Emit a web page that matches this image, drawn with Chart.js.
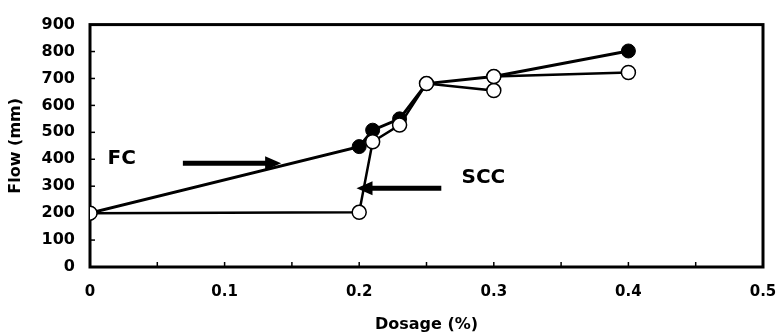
<!DOCTYPE html>
<html>
<head>
<meta charset="utf-8">
<script src="https://cdn.jsdelivr.net/npm/chart.js@4"></script>
<style>
    html, body { margin: 0; padding: 0; background: #fff; }
    #wrap { width: 777px; height: 334px; }
</style>
</head>
<body>
<div id="wrap"><canvas id="flowChart"></canvas></div>
<script>
// values
const fcDosage = [0, 0.2, 0.21, 0.23, 0.25, 0.3, 0.4];
const fcFlow = [200, 447, 508, 550, 681, 707, 802];
const sccDosage = [0, 0.2, 0.21, 0.23, 0.25, 0.3, 0.3, 0.4];
const sccFlow = [200, 203, 465, 527, 681, 655, 707, 722];
const xTicks = [0, 0.1, 0.2, 0.3, 0.4, 0.5];
const yTicks = [0, 100, 200, 300, 400, 500, 600, 700, 800, 900];

// labels + arrows, in data units
const labels = [
    { text: 'FC', x: 0.013, y: 403 },
    { text: 'SCC', x: 0.276, y: 330 }
];
const arrows = [
    { from: [0.069, 385], to: [0.142, 385] },
    { from: [0.261, 292], to: [0.198, 292] }
];

const FONT = "'DejaVu Sans', Arial, sans-serif";

document.addEventListener('DOMContentLoaded', () => {
    const ctxEl = document.getElementById('flowChart');

    const toPoints = (xs, ys) => xs.map((x, i) => ({ x: x, y: ys[i] }));

    // frame, inward ticks, arrows and text
    const decorations = {
        id: 'decorations',
        beforeDatasetsDraw(chart) {
            const { ctx, chartArea: a, scales } = chart;
            ctx.save();
            ctx.strokeStyle = '#000';
            ctx.lineWidth = 1.5;
            for (let v = 0.05; v < 0.5; v += 0.05) {
                const px = scales.x.getPixelForValue(v);
                ctx.beginPath();
                ctx.moveTo(px, a.bottom);
                ctx.lineTo(px, a.bottom - 5);
                ctx.stroke();
            }
            yTicks.slice(1, -1).forEach(v => {
                const py = scales.y.getPixelForValue(v);
                ctx.beginPath();
                ctx.moveTo(a.left, py);
                ctx.lineTo(a.left + 5, py);
                ctx.stroke();
            });
            ctx.lineWidth = 3;
            ctx.strokeRect(a.left, a.top, a.right - a.left, a.bottom - a.top);

            // arrows
            arrows.forEach(ar => {
                const x1 = scales.x.getPixelForValue(ar.from[0]);
                const y1 = scales.y.getPixelForValue(ar.from[1]);
                const x2 = scales.x.getPixelForValue(ar.to[0]);
                const y2 = scales.y.getPixelForValue(ar.to[1]);
                const dir = Math.sign(x2 - x1);
                ctx.lineWidth = 5;
                ctx.beginPath();
                ctx.moveTo(x1, y1);
                ctx.lineTo(x2 - dir * 10, y2);
                ctx.stroke();
                ctx.fillStyle = '#000';
                ctx.beginPath();
                ctx.moveTo(x2, y2);
                ctx.lineTo(x2 - dir * 16, y2 - 7);
                ctx.lineTo(x2 - dir * 16, y2 + 7);
                ctx.closePath();
                ctx.fill();
            });

            ctx.fillStyle = '#000';
            ctx.font = 'bold 20px ' + FONT;
            ctx.textBaseline = 'middle';
            ctx.textAlign = 'left';
            labels.forEach(l => {
                ctx.fillText(l.text, scales.x.getPixelForValue(l.x), scales.y.getPixelForValue(l.y));
            });
            ctx.restore();
        }
    };

    new Chart(ctxEl, {
        type: 'scatter',
        data: {
            datasets: [
                {
                    label: 'FC',
                    data: toPoints(fcDosage, fcFlow),
                    order: 2,
                    showLine: true,
                    borderColor: '#000',
                    borderWidth: 3,
                    pointRadius: 7,
                    pointBackgroundColor: '#000',
                    pointBorderColor: '#000',
                    pointBorderWidth: 1
                },
                {
                    label: 'SCC',
                    data: toPoints(sccDosage, sccFlow),
                    order: 1,
                    showLine: true,
                    borderColor: '#000',
                    borderWidth: 2.5,
                    pointRadius: 7,
                    pointBackgroundColor: '#fff',
                    pointBorderColor: '#000',
                    pointBorderWidth: 1.5
                }
            ]
        },
        options: {
            responsive: true,
            maintainAspectRatio: false,
            animation: false,
            layout: { padding: { top: 21, right: 0, left: 0, bottom: 0 } },
            plugins: {
                legend: { display: false },
                tooltip: { enabled: false }
            },
            scales: {
                x: {
                    type: 'linear',
                    min: 0,
                    max: 0.5,
                    afterBuildTicks: s => { s.ticks = xTicks.map(v => ({ value: v })); },
                    afterFit: s => {
                        s.height = 67;
                        s.paddingRight = 14;
                        s.paddingLeft = 0;
                    },
                    grid: { display: false, drawTicks: false },
                    border: { display: false },
                    ticks: {
                        padding: 16,
                        color: '#000',
                        font: { family: FONT, size: 15, weight: 'bold' },
                        callback: v => String(v)
                    },
                    title: {
                        display: true,
                        text: 'Dosage (%)',
                        color: '#000',
                        font: { family: FONT, size: 16, weight: 'bold' },
                        padding: { top: 0, bottom: 0 }
                    }
                },
                y: {
                    min: 0,
                    max: 900,
                    afterBuildTicks: s => { s.ticks = yTicks.map(v => ({ value: v })); },
                    afterFit: s => { s.width = 90; },
                    grid: { display: false, drawTicks: false },
                    border: { display: false },
                    ticks: {
                        padding: 15,
                        color: '#000',
                        font: { family: FONT, size: 16, weight: 'bold' }
                    },
                    title: {
                        display: true,
                        text: 'Flow (mm)',
                        color: '#000',
                        font: { family: FONT, size: 16, weight: 'bold' },
                        padding: { top: 6, bottom: 0 }
                    }
                }
            }
        },
        plugins: [decorations]
    });
});
</script>
</body>
</html>
